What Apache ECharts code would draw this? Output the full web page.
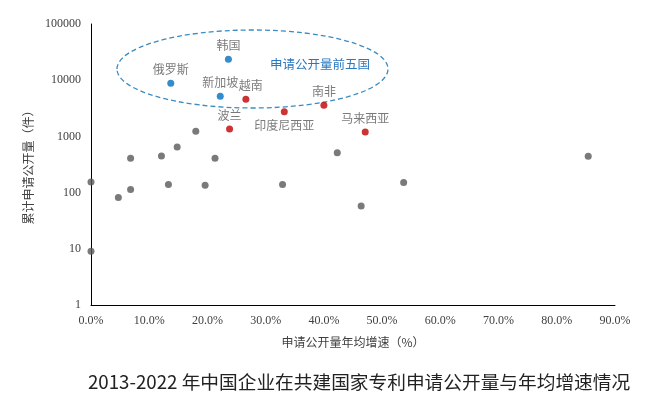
<!DOCTYPE html>
<html>
<head>
<meta charset="utf-8">
<script src="https://cdn.jsdelivr.net/npm/echarts@6/dist/echarts.min.js"></script>
<style>
  html, body { margin: 0; padding: 0; background: #fff; }
  #chart { width: 662px; height: 397px; }
</style>
</head>
<body>
<div id="chart"></div>
<script>
// 申请公开量前五国 (blue)
const topNames = ['俄罗斯', '韩国', '新加坡'];
const topGrowth = [13.7, 23.6, 22.2];
const topCount = [8800, 23500, 5200];

// other labelled countries (red)
const redNames = ['越南', '印度尼西亚', '南非', '波兰', '马来西亚'];
const redGrowth = [26.6, 33.2, 40.0, 23.8, 47.1];
const redCount = [4600, 2750, 3600, 1350, 1200];

// unlabelled countries (gray)
const grayGrowth = [18.0, 6.8, 12.1, 14.8, 21.3, 0.0, 4.7, 6.8, 13.3, 19.6, 32.9, 0.0, 42.3, 85.4, 53.7, 46.4];
const grayCount = [1230, 410, 450, 650, 410, 155, 82, 113, 140, 135, 140, 9, 510, 445, 152, 58];

const xTicks = [0, 10, 20, 30, 40, 50, 60, 70, 80, 90];

const labelFont = '"Noto Sans CJK SC", sans-serif';
const numFont = '"Liberation Serif", "DejaVu Serif", serif';

const zip = (a, b) => a.map((v, i) => [v, b[i]]);

const chart = echarts.init(document.getElementById('chart'));

const labelPos = {
  '越南': { position: 'top', offset: [5, 0] },
  '印度尼西亚': { position: 'bottom' }
};

function named(names, xs, ys) {
  return names.map((n, i) => ({
    name: n,
    value: [xs[i], ys[i]],
    label: labelPos[n] || {}
  }));
}

chart.setOption({
  animation: false,
  grid: { left: 91, right: 47, top: 24, bottom: 92 },
  title: {
    text: '2013-2022 年中国企业在共建国家专利申请公开量与年均增速情况',
    left: 88,
    top: 373,
    padding: 0,
    textStyle: { fontFamily: labelFont, fontSize: 18.7, fontWeight: 'normal', color: '#222' }
  },
  xAxis: {
    type: 'value',
    min: xTicks[0],
    max: xTicks[xTicks.length - 1],
    interval: 10,
    name: '申请公开量年均增速（%）',
    nameLocation: 'middle',
    nameGap: 31,
    nameTextStyle: { fontFamily: labelFont, fontSize: 12, color: '#404040' },
    axisLine: { lineStyle: { color: '#000', width: 1 } },
    axisTick: { show: false },
    splitLine: { show: false },
    axisLabel: {
      fontFamily: numFont, fontSize: 12, color: '#404040', margin: 10,
      formatter: v => v.toFixed(1) + '%'
    }
  },
  yAxis: {
    type: 'log',
    logBase: 10,
    min: 1,
    max: 100000,
    name: '累计申请公开量（件）',
    nameLocation: 'middle',
    nameGap: 46,
    nameTextStyle: { fontFamily: labelFont, fontSize: 12, color: '#404040' },
    axisLine: { show: true, lineStyle: { color: '#000', width: 1 } },
    axisTick: { show: false },
    splitLine: { show: false },
    axisLabel: {
      fontFamily: numFont, fontSize: 12, color: '#404040', margin: 10,
      formatter: v => String(Math.round(v))
    }
  },
  graphic: [
    {
      type: 'ellipse',
      shape: { cx: 252.5, cy: 69, rx: 135.5, ry: 39 },
      style: { fill: 'none', stroke: '#3a8cc0', lineWidth: 1.3, lineDash: [5, 3] },
      z: 1
    },
    {
      type: 'text',
      left: 270,
      top: 58,
      style: { text: '申请公开量前五国', fill: '#2a78c0', font: '12.5px "Noto Sans CJK SC"' }
    }
  ],
  series: [
    {
      type: 'scatter',
      symbolSize: 7,
      itemStyle: { color: '#595959' },
      data: zip(grayGrowth, grayCount)
    },
    {
      type: 'scatter',
      symbolSize: 7,
      itemStyle: { color: '#c00000' },
      label: {
        show: true, position: 'top', distance: 4, formatter: '{b}',
        fontFamily: labelFont, fontSize: 12, color: '#595959'
      },
      data: named(redNames, redGrowth, redCount)
    },
    {
      type: 'scatter',
      symbolSize: 7,
      itemStyle: { color: '#0070c0' },
      label: {
        show: true, position: 'top', distance: 4, formatter: '{b}',
        fontFamily: labelFont, fontSize: 12, color: '#595959'
      },
      data: named(topNames, topGrowth, topCount)
    }
  ]
});
</script>
</body>
</html>
